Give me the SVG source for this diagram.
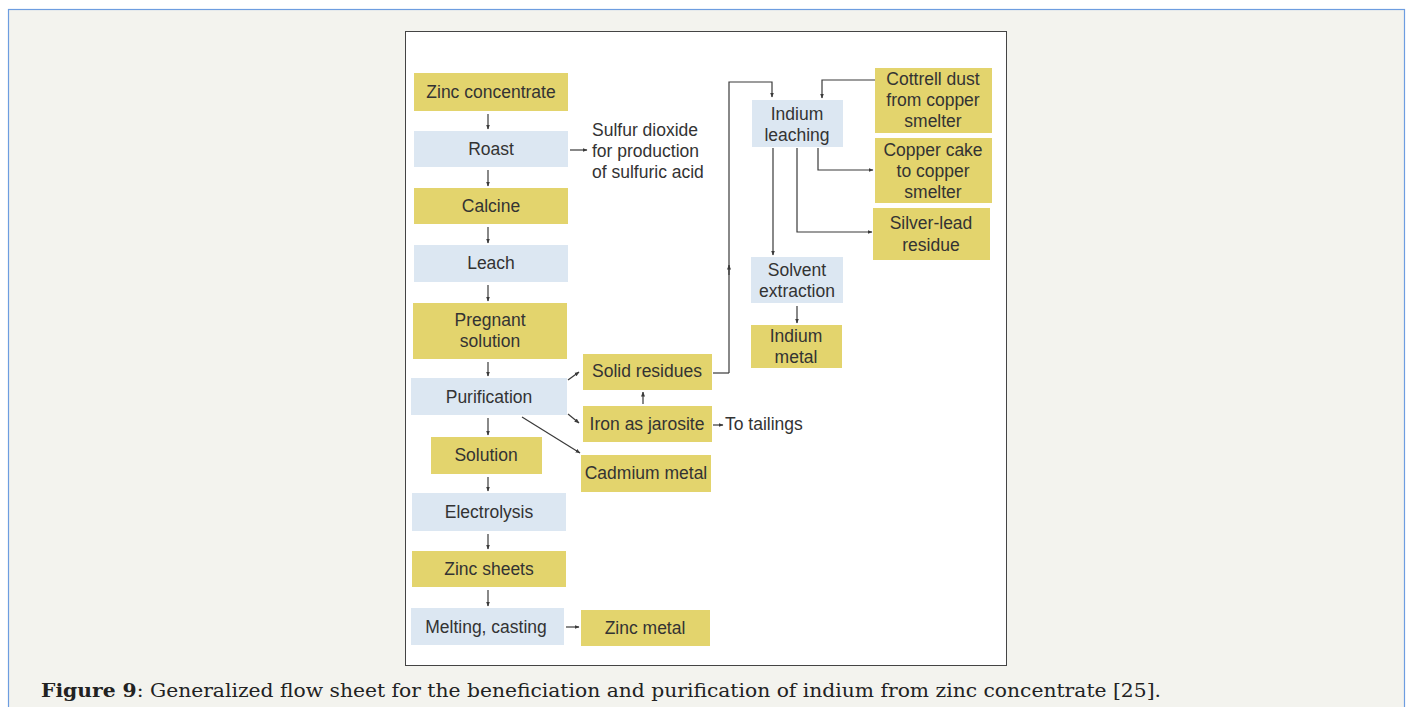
<svg xmlns="http://www.w3.org/2000/svg" width="1406" height="707" viewBox="0 0 1406 707">
<defs>
<marker id="ah" viewBox="0 0 10 10" refX="9" refY="5" markerWidth="5" markerHeight="5" orient="auto" markerUnits="userSpaceOnUse">
<path d="M0,1 L10,5 L0,9 z" fill="#3a3a3a"/>
</marker>
<style>
.y{fill:#e3d46d}
.b{fill:#dce7f2}
.t{font-family:"Liberation Sans",Arial,Helvetica,sans-serif;font-size:17.5px;fill:#333;text-anchor:middle}
.tl{font-family:"Liberation Sans",Arial,Helvetica,sans-serif;font-size:17.5px;fill:#333}
.c{fill:none;stroke:#3a3a3a;stroke-width:1.2;marker-end:url(#ah)}
.n{fill:none;stroke:#3a3a3a;stroke-width:1.2}
.cap{font-family:"DejaVu Serif","Liberation Serif",serif;font-size:18px;fill:#222}
</style>
</defs>
<rect x="0" y="0" width="1406" height="707" fill="#ffffff"/>
<rect x="8.5" y="9.5" width="1396" height="710" fill="#f3f3ee" stroke="#6d9de0" stroke-width="1.2"/>
<rect x="405.5" y="31.5" width="601" height="634" fill="#ffffff" stroke="#444" stroke-width="1"/>

<g id="zinc-concentrate"><rect class="y" x="414" y="73" width="154" height="38"/><text class="t" x="491" y="98">Zinc concentrate</text></g>
<g id="roast"><rect class="b" x="414" y="131" width="154" height="36"/><text class="t" x="491" y="155">Roast</text></g>
<g id="calcine"><rect class="y" x="414" y="188" width="154" height="36"/><text class="t" x="491" y="212">Calcine</text></g>
<g id="leach"><rect class="b" x="414" y="245" width="154" height="37"/><text class="t" x="491" y="269">Leach</text></g>
<g id="pregnant-solution"><rect class="y" x="413" y="303" width="154" height="56"/><text class="t" x="490" y="326">Pregnant</text><text class="t" x="490" y="347">solution</text></g>
<g id="purification"><rect class="b" x="411" y="378" width="156" height="37"/><text class="t" x="489" y="403">Purification</text></g>
<g id="solution"><rect class="y" x="431" y="437" width="111" height="37"/><text class="t" x="486" y="461">Solution</text></g>
<g id="electrolysis"><rect class="b" x="412" y="493" width="154" height="38"/><text class="t" x="489" y="518">Electrolysis</text></g>
<g id="zinc-sheets"><rect class="y" x="412" y="551" width="154" height="36"/><text class="t" x="489" y="575">Zinc sheets</text></g>
<g id="melting-casting"><rect class="b" x="411" y="608" width="153" height="37"/><text class="t" x="486" y="633">Melting, casting</text></g>
<g id="zinc-metal"><rect class="y" x="581" y="610" width="129" height="36"/><text class="t" x="645" y="634">Zinc metal</text></g>
<g id="sulfur-dioxide"><text class="tl" x="592" y="136">Sulfur dioxide</text><text class="tl" x="592" y="157">for production</text><text class="tl" x="592" y="178">of sulfuric acid</text></g>
<g id="solid-residues"><rect class="y" x="583" y="354" width="129" height="36"/><text class="t" x="647" y="377">Solid residues</text></g>
<g id="iron-as-jarosite"><rect class="y" x="583" y="406" width="129" height="36"/><text class="t" x="647" y="430">Iron as jarosite</text></g>
<g id="to-tailings"><text class="tl" x="725" y="430">To tailings</text></g>
<g id="cadmium-metal"><rect class="y" x="581" y="455" width="130" height="37"/><text class="t" x="646" y="479">Cadmium metal</text></g>
<g id="indium-leaching"><rect class="b" x="752" y="100" width="91" height="47"/><text class="t" x="797" y="120">Indium</text><text class="t" x="797" y="141">leaching</text></g>
<g id="cottrell-dust"><rect class="y" x="875" y="68" width="117" height="65"/><text class="t" x="933" y="85">Cottrell dust</text><text class="t" x="933" y="106">from copper</text><text class="t" x="933" y="127">smelter</text></g>
<g id="copper-cake"><rect class="y" x="875" y="138" width="117" height="65"/><text class="t" x="933" y="156">Copper cake</text><text class="t" x="933" y="177">to copper</text><text class="t" x="933" y="198">smelter</text></g>
<g id="silver-lead-residue"><rect class="y" x="873" y="208" width="117" height="52"/><text class="t" x="931" y="229">Silver-lead</text><text class="t" x="931" y="251">residue</text></g>
<g id="solvent-extraction"><rect class="b" x="751" y="257" width="92" height="46"/><text class="t" x="797" y="276">Solvent</text><text class="t" x="797" y="297">extraction</text></g>
<g id="indium-metal"><rect class="y" x="751" y="325" width="91" height="43"/><text class="t" x="796" y="342">Indium</text><text class="t" x="796" y="363">metal</text></g>

<g id="connectors">
<line class="c" x1="488" y1="114" x2="488" y2="129"/>
<line class="c" x1="488" y1="170" x2="488" y2="186"/>
<line class="c" x1="488" y1="227" x2="488" y2="243"/>
<line class="c" x1="488" y1="285" x2="488" y2="301"/>
<line class="c" x1="488" y1="362" x2="488" y2="376"/>
<line class="c" x1="488" y1="418" x2="488" y2="435"/>
<line class="c" x1="488" y1="477" x2="488" y2="491"/>
<line class="c" x1="488" y1="534" x2="488" y2="549"/>
<line class="c" x1="488" y1="590" x2="488" y2="606"/>
<line class="c" x1="570" y1="150" x2="587" y2="150"/>
<line class="c" x1="566" y1="627" x2="579" y2="627"/>
<line class="c" x1="568" y1="380" x2="579" y2="372"/>
<line class="c" x1="568" y1="414" x2="579" y2="423"/>
<line class="c" x1="522" y1="417" x2="580" y2="453"/>
<line class="c" x1="643" y1="404" x2="643" y2="392"/>
<line class="c" x1="713" y1="425" x2="723" y2="425"/>
<line class="n" x1="713" y1="373" x2="729" y2="373"/>
<path class="n" d="M729,373 V82 H772 V97" marker-end="url(#ah)"/>
<line class="c" x1="729" y1="275" x2="729" y2="265"/>
<path class="c" d="M875,80 H822 V98"/>
<path class="c" d="M818,148 V170 H873"/>
<path class="c" d="M797,148 V232 H872"/>
<line class="c" x1="773" y1="148" x2="773" y2="255"/>
<line class="c" x1="797" y1="306" x2="797" y2="323"/>
</g>

<text class="cap" x="41" y="697" textLength="1120" lengthAdjust="spacingAndGlyphs"><tspan font-weight="bold">Figure 9</tspan>: Generalized flow sheet for the beneficiation and purification of indium from zinc concentrate [25].</text>
</svg>
